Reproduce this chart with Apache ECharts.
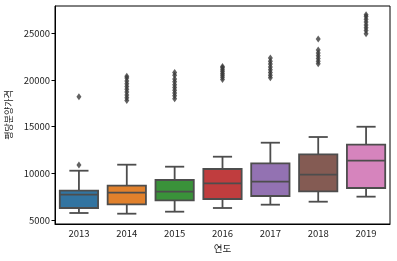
<!DOCTYPE html>
<html>
<head>
<meta charset="utf-8">
<script src="https://cdn.jsdelivr.net/npm/echarts@6/dist/echarts.min.js"></script>
<style>html,body{margin:0;padding:0;background:#fff}#c{width:397px;height:261px}</style>
</head>
<body>
<div id="c"></div>
<script>
const years = ['2013','2014','2015','2016','2017','2018','2019'];
const whiskLow  = [5750, 5675, 5890, 6285, 6640, 6960, 7500];
const q1        = [6285, 6681, 7110, 7249, 7570, 8070, 8430];
const median    = [7710, 7924, 8031, 8927, 9100, 9850, 11350];
const q3        = [8138, 8674, 9284, 10462, 11070, 12040, 13065];
const whiskHigh = [10280, 10925, 10710, 11780, 13280, 13890, 14990];
const outliers = [
  [10900, 18200],
  [17800, 18100, 18400, 18700, 19000, 19300, 19600, 19900, 20200, 20400],
  [18000, 18300, 18600, 18900, 19200, 19500, 19800, 20100, 20500, 20800],
  [20050, 20300, 20500, 20700, 20900, 21100, 21300, 21450],
  [20250, 20500, 20800, 21100, 21400, 21700, 22000, 22350],
  [21750, 22000, 22300, 22600, 22900, 23200, 24400],
  [24950, 25300, 25600, 25900, 26200, 26500, 26800, 27000]
];
const yTicks = [5000, 10000, 15000, 20000, 25000];
const colors = ['#3274a1','#e1812c','#3a923a','#c03d3e','#9372b2','#845b53','#d684bd'];

const boxData = years.map((y, i) => [i, whiskLow[i], q1[i], median[i], q3[i], whiskHigh[i]]);
const outData = [];
outliers.forEach((arr, i) => arr.forEach(v => outData.push([i, v])));

const edge = '#4d4d4d';
const lw = 1.8;
const font = '"Noto Sans CJK KR", "Noto Sans", sans-serif';

const chart = echarts.init(document.getElementById('c'), null, {renderer: 'canvas'});
chart.setOption({
  animation: false,
  grid: {left: 55, right: 7, top: 6, bottom: 37, show: true, borderColor: '#000', borderWidth: 1,
         backgroundColor: 'transparent', containLabel: false, outerBoundsMode: 'none'},
  xAxis: {
    type: 'category', data: years, boundaryGap: true,
    name: '연도', nameLocation: 'middle', nameGap: 18,
    nameTextStyle: {fontFamily: font, fontSize: 9.5, color: '#222'},
    axisLine: {lineStyle: {color: '#000', width: 1}},
    axisTick: {alignWithLabel: true, length: 3.5, lineStyle: {color: '#000'}},
    axisLabel: {fontFamily: font, fontSize: 9.5, color: '#222', margin: 5},
    splitLine: {show: false}
  },
  yAxis: {
    type: 'value', min: 4571, max: 27925,
    name: '평당분양가격', nameLocation: 'middle', nameGap: 34,
    nameTextStyle: {fontFamily: font, fontSize: 9, color: '#222'},
    axisLine: {show: true, lineStyle: {color: '#000', width: 1}},
    axisTick: {show: true, length: 3.5, lineStyle: {color: '#000'}, customValues: yTicks},
    axisLabel: {fontFamily: font, fontSize: 9.5, color: '#222', margin: 5, customValues: yTicks,
                formatter: v => String(v)},
    splitLine: {show: false}
  },
  series: [
    {
      type: 'custom',
      data: boxData,
      encode: {x: 0, y: [1,2,3,4,5]},
      renderItem: function (params, api) {
        const i = api.value(0);
        const cx = api.coord([i, 0])[0];
        const yLo = api.coord([i, api.value(1)])[1];
        const yQ1 = api.coord([i, api.value(2)])[1];
        const yMed = api.coord([i, api.value(3)])[1];
        const yQ3 = api.coord([i, api.value(4)])[1];
        const yHi = api.coord([i, api.value(5)])[1];
        const bw = api.size([1, 0])[0] * 0.8;
        const cw = bw / 2;
        const ls = {stroke: edge, lineWidth: lw, fill: null};
        return {
          type: 'group',
          children: [
            {type: 'line', shape: {x1: cx, y1: yQ3, x2: cx, y2: yHi}, style: ls},
            {type: 'line', shape: {x1: cx, y1: yQ1, x2: cx, y2: yLo}, style: ls},
            {type: 'line', shape: {x1: cx - cw/2, y1: yHi, x2: cx + cw/2, y2: yHi}, style: ls},
            {type: 'line', shape: {x1: cx - cw/2, y1: yLo, x2: cx + cw/2, y2: yLo}, style: ls},
            {type: 'rect', shape: {x: cx - bw/2, y: yQ3, width: bw, height: yQ1 - yQ3},
              style: {fill: colors[params.dataIndex], stroke: edge, lineWidth: lw}},
            {type: 'line', shape: {x1: cx - bw/2, y1: yMed, x2: cx + bw/2, y2: yMed}, style: ls}
          ]
        };
      }
    },
    {
      type: 'scatter',
      data: outData,
      symbol: 'diamond',
      symbolSize: [5, 7],
      itemStyle: {color: '#3a3a3a'},
      z: 3
    }
  ]
});
</script>
</body>
</html>
